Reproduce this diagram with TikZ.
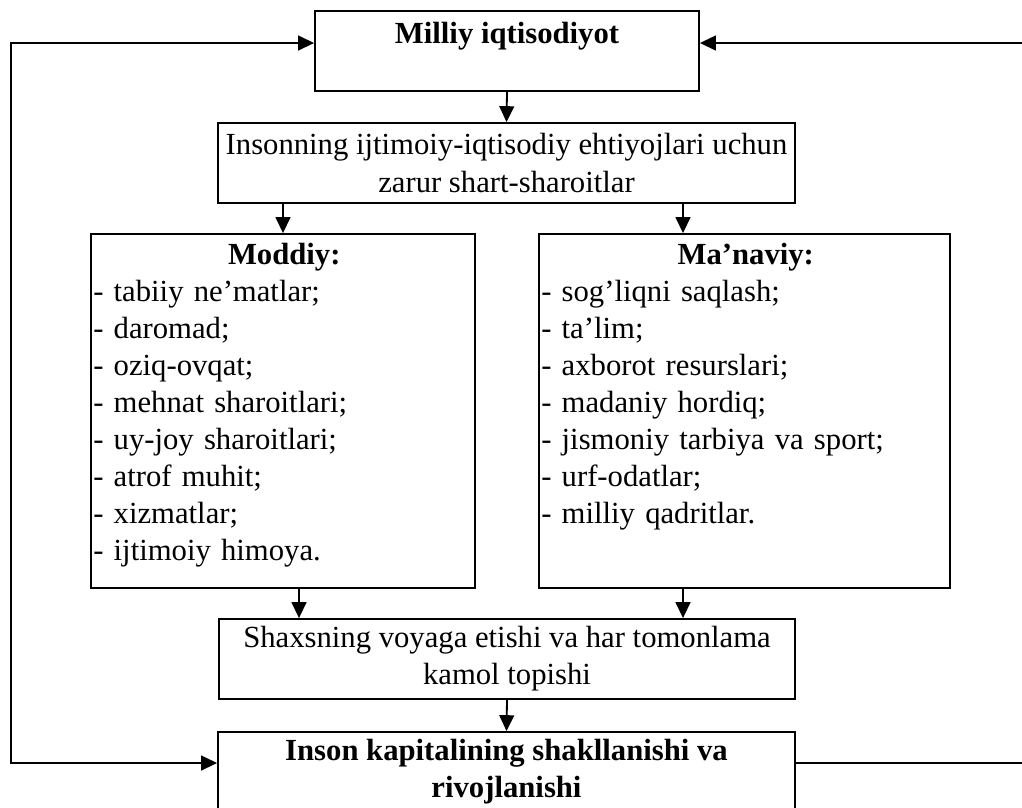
\documentclass[tikz,border=0pt]{standalone}
\usepackage{fontspec}
\setmainfont{Liberation Serif}
\usetikzlibrary{arrows.meta,positioning,calc}
\newcommand{\pxu}{0.44pt}

\begin{document}
\begin{tikzpicture}[x=0.44pt,y=-0.44pt,line width=0.8pt,font=\fontsize{13.5}{16.3}\selectfont]
\tikzstyle{box}=[draw, rectangle, inner sep=0pt]
\tikzstyle{txt}=[inner sep=0pt, align=center]
\tikzstyle{list}=[inner xsep=1pt, inner ysep=4pt, align=left, anchor=north west]
\tikzstyle{arr}=[-{Triangle[length=7pt,width=6.5pt]}]
\useasboundingbox (0,0) rectangle (1022,807);

% boxes
\node[box, minimum width=384*\pxu, minimum height=80*\pxu] (nat) at (507,51) {};
\node[txt] (natt) at (507,36) {\textbf{Milliy iqtisodiyot}};
\node[box, minimum width=577*\pxu, minimum height=80*\pxu, txt] (need) at (506.5,163)
  {Insonning ijtimoiy-iqtisodiy ehtiyojlari uchun\\ zarur shart-sharoitlar};
\node[box, minimum width=384*\pxu, minimum height=354*\pxu] (mod) at (283,411) {};
\node[box, minimum width=411*\pxu, minimum height=354*\pxu] (man) at (744.5,411) {};
\node[list, text width=382*\pxu] (modt) at (mod.north west)
  {\makebox[\linewidth]{\textbf{Moddiy:}}\\
   - tabiiy ne’matlar;\\ - daromad;\\ - oziq-ovqat;\\ - mehnat sharoitlari;\\
   - uy-joy sharoitlari;\\ - atrof muhit;\\ - xizmatlar;\\ - ijtimoiy himoya.};
\node[list, text width=409*\pxu] (mant) at (man.north west)
  {\makebox[\linewidth]{\textbf{Ma’naviy:}}\\
   - sog’liqni saqlash;\\ - ta’lim;\\ - axborot resurslari;\\ - madaniy hordiq;\\
   - jismoniy tarbiya va sport;\\ - urf-odatlar;\\ - milliy qadritlar.};
\node[box, minimum width=576*\pxu, minimum height=80*\pxu, txt] (shax) at (507,659)
  {Shaxsning voyaga etishi va har tomonlama\\ kamol topishi};
\node[box, minimum width=577*\pxu, minimum height=90*\pxu] (kap) at (506.5,777) {};
\node[txt] (kapt) at (506.5,772) {\textbf{Inson kapitalining shakllanishi va}\\ \textbf{rivojlanishi}};

% helper points
\coordinate (r1) at (683,0);
\coordinate (l2) at (299,0);
\coordinate (top) at (0,43);
\coordinate (bot) at (0,763);
\coordinate (lft) at (11,0);
\coordinate (rgt) at (1030,0);

% arrows
\draw[arr] (nat.south) -- (need.north);
\draw[arr] (need.south -| mod.north) -- (mod.north);
\draw[arr] (need.south -| r1) -- (man.north -| r1);
\draw[arr] (mod.south -| l2) -- (shax.north -| l2);
\draw[arr] (man.south -| r1) -- (shax.north -| r1);
\draw[arr] (shax.south) -- (kap.north);
\draw[{Triangle[length=7pt,width=6.5pt]}-{Triangle[length=7pt,width=6.5pt]}]
  (nat.west |- top) -- (lft |- top) -- (lft |- bot) -- (kap.west |- bot);
\draw[arr] (kap.east |- bot) -- (rgt |- bot) -- (rgt |- top) -- (nat.east |- top);
\end{tikzpicture}
\end{document}
